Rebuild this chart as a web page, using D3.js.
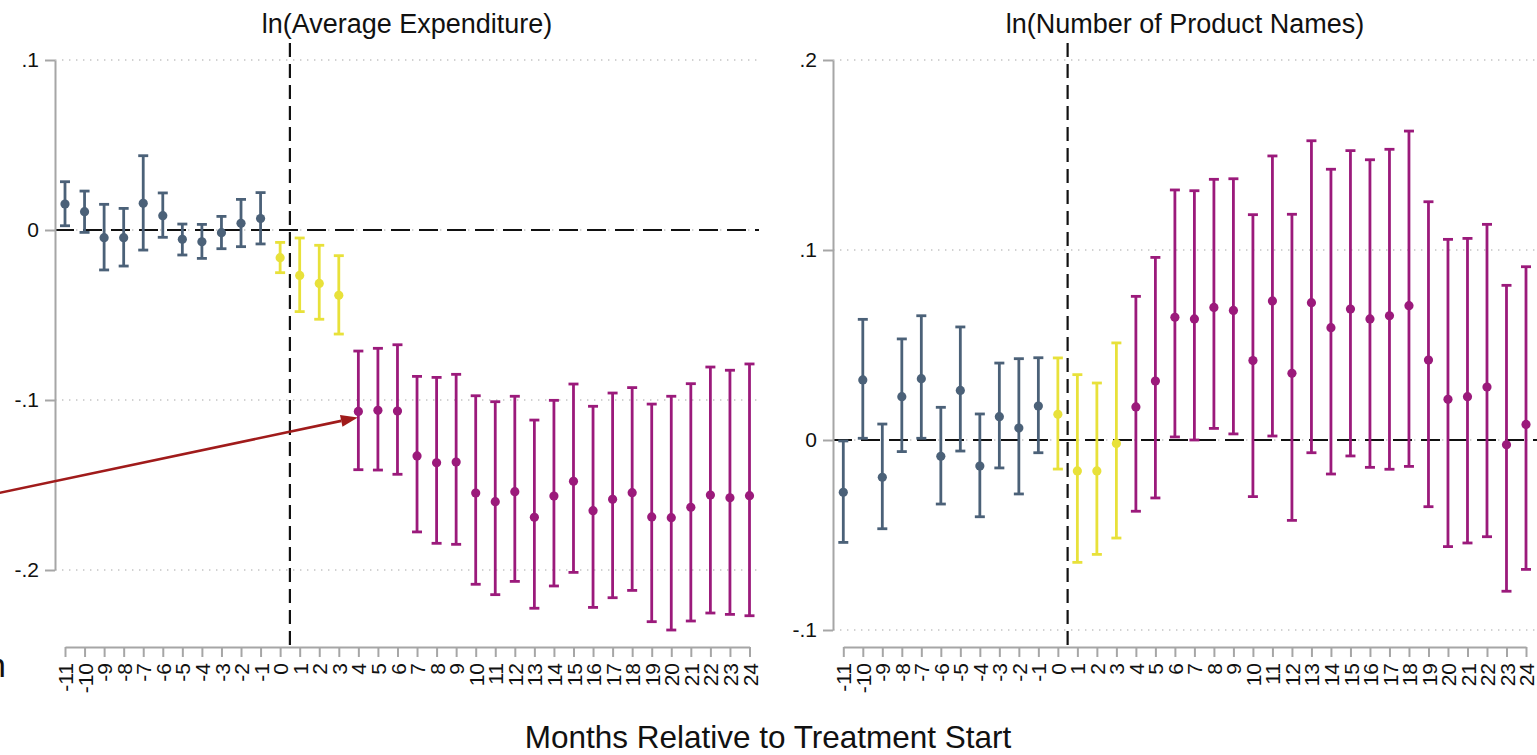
<!DOCTYPE html>
<html><head><meta charset="utf-8">
<script src="https://cdn.jsdelivr.net/npm/d3@7"></script>
<style>
html,body{margin:0;padding:0;background:#fff;}
svg{display:block;font-family:"Liberation Sans",Arial,Helvetica,sans-serif;}
</style>
</head><body>
<svg id="chart" width="1537" height="755"></svg>
<script>
// ---------- data ----------
const months = [-11,-10,-9,-8,-7,-6,-5,-4,-3,-2,-1,0,1,2,3,4,5,6,7,8,9,10,11,12,13,14,15,16,17,18,19,20,21,22,23,24];

const expCoef = [0.0153,0.0108,-0.0045,-0.0045,0.0157,0.0084,-0.0055,-0.0069,-0.0016,0.0039,0.0067,
  -0.0163,-0.0267,-0.0314,-0.0384,
  -0.1067,-0.1061,-0.1065,-0.1329,-0.1369,-0.1365,-0.1547,-0.1598,-0.1539,-0.1690,-0.1565,-0.1478,-0.1651,-0.1584,-0.1545,-0.1688,-0.1692,-0.1631,-0.1559,-0.1575,-0.1563];
const expHi = [0.0284,0.0229,0.0151,0.0127,0.0437,0.0218,0.0035,0.0033,0.0080,0.0180,0.0220,
  -0.0073,-0.0047,-0.0090,-0.0151,
  -0.0712,-0.0696,-0.0675,-0.0861,-0.0867,-0.0849,-0.0975,-0.1010,-0.0978,-0.1118,-0.1002,-0.0906,-0.1037,-0.0959,-0.0927,-0.1024,-0.0978,-0.0904,-0.0806,-0.0825,-0.0788];
const expLo = [0.0025,-0.0014,-0.0235,-0.0212,-0.0118,-0.0043,-0.0147,-0.0167,-0.0110,-0.0098,-0.0082,
  -0.0251,-0.0480,-0.0525,-0.0612,
  -0.1410,-0.1412,-0.1437,-0.1776,-0.1843,-0.1849,-0.2084,-0.2145,-0.2067,-0.2225,-0.2094,-0.2014,-0.2220,-0.2163,-0.2120,-0.2304,-0.2353,-0.2300,-0.2253,-0.2261,-0.2269];

const prodCoef = [-0.0275,0.0316,-0.0196,0.0228,0.0323,-0.0086,0.0261,-0.0137,0.0123,0.0063,0.0179,
  0.0135,-0.0163,-0.0163,-0.0018,
  0.0174,0.0310,0.0646,0.0637,0.0698,0.0682,0.0418,0.0732,0.0351,0.0723,0.0591,0.0689,0.0637,0.0654,0.0707,0.0421,0.0214,0.0228,0.0279,-0.0025,0.0082];
const prodHi = [-0.0005,0.0635,0.0084,0.0532,0.0654,0.0172,0.0595,0.0137,0.0405,0.0428,0.0433,
  0.0432,0.0344,0.0300,0.0511,
  0.0756,0.0961,0.1316,0.1312,0.1372,0.1375,0.1186,0.1495,0.1188,0.1575,0.1425,0.1523,0.1475,0.1530,0.1626,0.1254,0.1056,0.1061,0.1135,0.0814,0.0912];
const prodLo = [-0.0539,0.0009,-0.0467,-0.0061,0.0009,-0.0337,-0.0058,-0.0404,-0.0147,-0.0284,-0.0067,
  -0.0153,-0.0644,-0.0602,-0.0516,
  -0.0375,-0.0305,0.0016,0.0000,0.0061,0.0032,-0.0298,0.0021,-0.0423,-0.0067,-0.0179,-0.0084,-0.0144,-0.0154,-0.0139,-0.0351,-0.0561,-0.0542,-0.0509,-0.0796,-0.0681];

const expTicks = [0.1, 0, -0.1, -0.2];
const expTickLabels = [".1", "0", "-.1", "-.2"];
const prodTicks = [0.2, 0.1, 0, -0.1];
const prodTickLabels = [".2", ".1", "0", "-.1"];

const panelTitles = ["ln(Average Expenditure)", "ln(Number of Product Names)"];
const xAxisTitle = "Months Relative to Treatment Start";
const treatmentLine = 0.5;   // vertical dashed line between months 0 and 1
const arrowTargetMonth = 4;

// ---------- style / layout ----------
const colPre = "#4b6178", colEarly = "#e8e13a", colPost = "#9b1a7b", colArrow = "#a01b1b";
const axisCol = "#a6a6a6", gridCol = "#c4c4c4";
const fontTick = 21, fontTitle = 27;
const plotTop = 43, xAxisY = 647;

const svg = d3.select("#chart");

const panels = [
  {coef: expCoef, lo: expLo, hi: expHi, ticks: expTicks, labels: expTickLabels, title: panelTitles[0],
   axisX: 55, xr: [65, 749.5], right: 759, ydom: [-0.2, 0.1], yr: [570, 60]},
  {coef: prodCoef, lo: prodLo, hi: prodHi, ticks: prodTicks, labels: prodTickLabels, title: panelTitles[1],
   axisX: 833, xr: [843.3, 1526], right: 1537, ydom: [-0.1, 0.2], yr: [630, 60]}
];

function colorFor(m) { return m < 0 ? colPre : (m <= 3 ? colEarly : colPost); }

const scalesOut = [];
panels.forEach(p => {
  const x = d3.scaleLinear().domain([-11, 24]).range(p.xr);
  const y = d3.scaleLinear().domain(p.ydom).range(p.yr);
  scalesOut.push({x, y});
  const g = svg.append("g");

  // gridlines (dotted)
  g.selectAll("line.grid").data(p.ticks).enter().append("line")
    .attr("x1", p.axisX).attr("x2", p.right)
    .attr("y1", d => y(d)).attr("y2", d => y(d))
    .attr("stroke", gridCol).attr("stroke-width", 1.3)
    .attr("stroke-dasharray", "1.4,5.6");

  // zero dashed line
  g.append("line")
    .attr("x1", p.axisX).attr("x2", p.right)
    .attr("y1", y(0)).attr("y2", y(0))
    .attr("stroke", "#111").attr("stroke-width", 2)
    .attr("stroke-dasharray", "19,9");

  // treatment vertical dashed line
  g.append("line")
    .attr("x1", x(treatmentLine)).attr("x2", x(treatmentLine))
    .attr("y1", plotTop).attr("y2", xAxisY)
    .attr("stroke", "#111").attr("stroke-width", 2.2)
    .attr("stroke-dasharray", "14,7");

  // y axis
  const ya = d3.axisLeft(y).tickValues(p.ticks)
    .tickFormat((d, i) => p.labels[i]).tickSize(10).tickSizeOuter(0).tickPadding(6);
  const yg = g.append("g").attr("transform", `translate(${p.axisX},0)`).call(ya);
  yg.select(".domain").attr("stroke", axisCol).attr("stroke-width", 2);
  yg.selectAll(".tick line").attr("stroke", axisCol).attr("stroke-width", 2);
  yg.selectAll(".tick text").attr("font-size", fontTick).attr("fill", "#111")
    .attr("font-family", "Liberation Sans, Arial, sans-serif");

  // x axis
  const xa = d3.axisBottom(x).tickValues(months).tickFormat(d => String(d))
    .tickSize(10).tickSizeOuter(0);
  const xg = g.append("g").attr("transform", `translate(0,${xAxisY})`).call(xa);
  xg.select(".domain").attr("stroke", axisCol).attr("stroke-width", 2);
  xg.selectAll(".tick line").attr("stroke", axisCol).attr("stroke-width", 2);
  xg.selectAll(".tick text").attr("font-size", fontTick).attr("fill", "#111")
    .attr("font-family", "Liberation Sans, Arial, sans-serif")
    .attr("transform", "rotate(-90)").attr("text-anchor", "end")
    .attr("x", -16).attr("y", 0).attr("dy", "0.36em");

  // error bars
  const rows = months.map((m, i) => ({m, c: p.coef[i], lo: p.lo[i], hi: p.hi[i]}));
  const eb = g.selectAll("g.eb").data(rows).enter().append("g")
    .attr("stroke", d => colorFor(d.m)).attr("fill", d => colorFor(d.m));
  eb.append("line").attr("x1", d => x(d.m)).attr("x2", d => x(d.m))
    .attr("y1", d => y(d.lo)).attr("y2", d => y(d.hi)).attr("stroke-width", 2.8);
  eb.append("line").attr("x1", d => x(d.m) - 5).attr("x2", d => x(d.m) + 5)
    .attr("y1", d => y(d.hi)).attr("y2", d => y(d.hi)).attr("stroke-width", 2.8);
  eb.append("line").attr("x1", d => x(d.m) - 5).attr("x2", d => x(d.m) + 5)
    .attr("y1", d => y(d.lo)).attr("y2", d => y(d.lo)).attr("stroke-width", 2.8);
  eb.append("circle").attr("cx", d => x(d.m)).attr("cy", d => y(d.c)).attr("r", 4.6)
    .attr("stroke", "none");

  // panel title
  g.append("text").attr("x", (p.axisX + p.right) / 2).attr("y", 33)
    .attr("text-anchor", "middle").attr("font-size", fontTitle).attr("fill", "#111")
    .text(p.title);
});

// x axis title
svg.append("text").attr("x", 768).attr("y", 748).attr("text-anchor", "middle")
  .attr("font-size", 31.5).attr("fill", "#111").text(xAxisTitle);

// clipped text fragment at the left edge (as in the reference)
svg.append("text").attr("x", 6).attr("y", 677).attr("text-anchor", "end")
  .attr("font-size", 34).attr("fill", "#111").text("n");

// arrow pointing to the first post-treatment (month 4) estimate
{
  const {x, y} = scalesOut[0];
  const idx = months.indexOf(arrowTargetMonth);
  const tipX = x(arrowTargetMonth) - 0.5, tipY = y(expCoef[idx]) + 6;
  const startX = tipX - 380, startY = tipY + 80;
  const ang = Math.atan2(tipY - startY, tipX - startX);
  const len = 17, half = 6;
  const bx = tipX - len * Math.cos(ang), by = tipY - len * Math.sin(ang);
  svg.append("line").attr("x1", startX).attr("y1", startY).attr("x2", bx).attr("y2", by)
    .attr("stroke", colArrow).attr("stroke-width", 2.6);
  const pts = [[tipX, tipY],
    [bx + half * Math.sin(ang), by - half * Math.cos(ang)],
    [bx - half * Math.sin(ang), by + half * Math.cos(ang)]];
  svg.append("polygon").attr("points", pts.map(q => q.join(",")).join(" "))
    .attr("fill", colArrow);
}
</script>
</body></html>
